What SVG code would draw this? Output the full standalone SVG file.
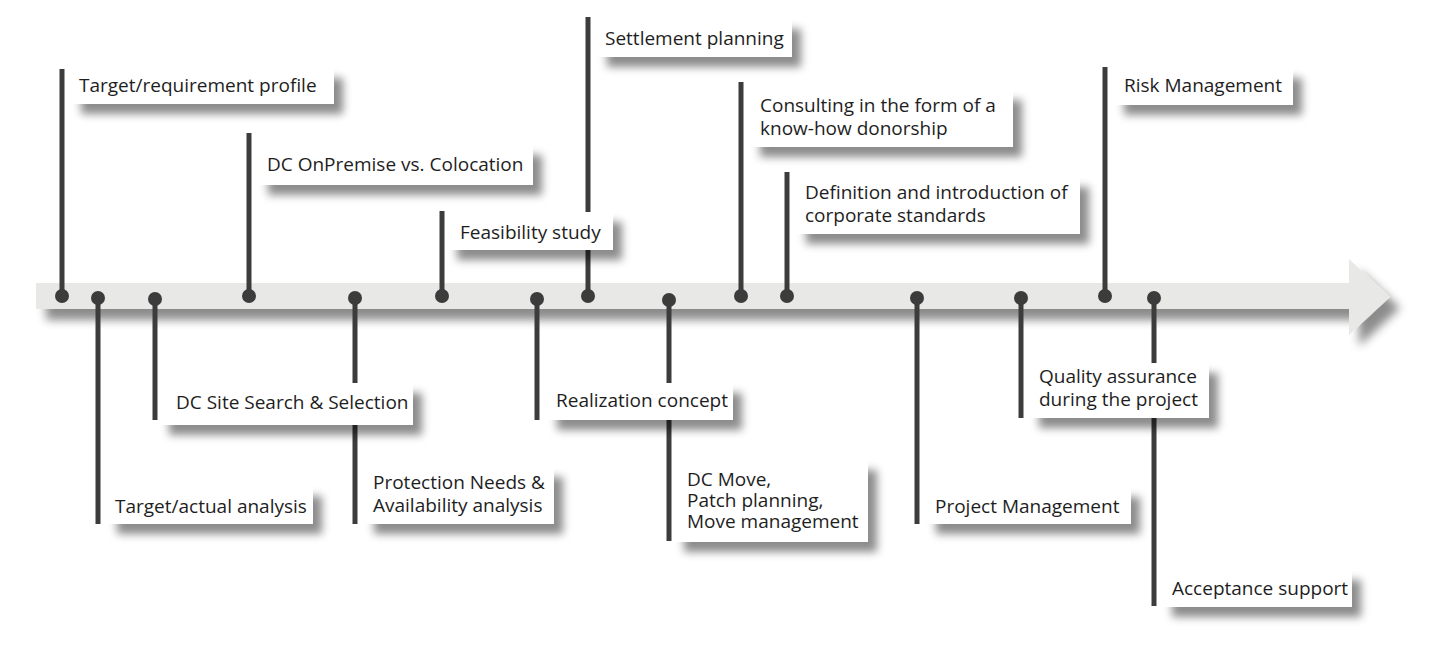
<svg xmlns="http://www.w3.org/2000/svg" width="1443" height="653" viewBox="0 0 1443 653">
<defs>
<filter id="sh" x="-20%" y="-40%" width="150%" height="200%">
<feDropShadow dx="9" dy="10" stdDeviation="4" flood-color="#000" flood-opacity="0.45"/>
</filter>
<filter id="bsh" x="-5%" y="-50%" width="110%" height="200%">
<feDropShadow dx="10" dy="11" stdDeviation="5" flood-color="#000" flood-opacity="0.45"/>
</filter>
</defs>
<style>
.ln{stroke:#3c3c3c;stroke-width:5;fill:none}
.dot{fill:#3c3c3c}
.box{fill:#fff;filter:url(#sh)}
.t{font-family:"Open Sans","Noto Sans",sans-serif;font-size:19px;fill:#1e1e1e}
</style>
<rect width="1443" height="653" fill="#fff"/>
<g id="timeline" filter="url(#bsh)">
<path d="M36,283 H1349 V259 L1390,297 L1349,335 V309 H36 Z" fill="#e8e9e7"/>
</g>
<g id="connectors">
</g>
<g id="n1">
<line class="ln" x1="62" y1="69" x2="62" y2="296"/>
<circle class="dot" cx="62" cy="296" r="7"/>
<rect class="box" x="72" y="68" width="262" height="36"/>
<text class="t" x="79" y="92">Target/requirement profile</text>
</g>
<g id="n2">
<line class="ln" x1="98" y1="299" x2="98" y2="524"/>
<circle class="dot" cx="98" cy="298" r="7"/>
<rect class="box" x="108" y="486" width="205" height="38"/>
<text class="t" x="115" y="513">Target/actual analysis</text>
</g>
<g id="n5">
<line class="ln" x1="355" y1="299" x2="355" y2="524"/>
<circle class="dot" cx="355" cy="298" r="7"/>
<rect class="box" x="365" y="467" width="189" height="57"/>
<text class="t" x="373" y="489">Protection Needs &amp;</text>
<text class="t" x="373" y="512">Availability analysis</text>
</g>
<g id="n3">
<line class="ln" x1="155" y1="299" x2="155" y2="420"/>
<circle class="dot" cx="155" cy="299" r="7"/>
<rect class="box" x="160" y="383" width="253" height="42"/>
<text class="t" x="176" y="409">DC Site Search &amp; Selection</text>
</g>
<g id="n4">
<line class="ln" x1="249" y1="133" x2="249" y2="296"/>
<circle class="dot" cx="249" cy="296" r="7"/>
<rect class="box" x="259" y="145" width="274" height="40"/>
<text class="t" x="267" y="171">DC OnPremise vs. Colocation</text>
</g>
<g id="n8">
<line class="ln" x1="588" y1="17" x2="588" y2="296"/>
<circle class="dot" cx="588" cy="296" r="7"/>
<rect class="box" x="598" y="19" width="194" height="38"/>
<text class="t" x="605" y="45">Settlement planning</text>
</g>
<g id="n6">
<line class="ln" x1="442" y1="211" x2="442" y2="296"/>
<circle class="dot" cx="442" cy="296" r="7"/>
<rect class="box" x="448" y="212" width="165" height="38"/>
<text class="t" x="460" y="239">Feasibility study</text>
</g>
<g id="n9">
<line class="ln" x1="669" y1="299" x2="669" y2="541"/>
<circle class="dot" cx="669" cy="300" r="7"/>
<rect class="box" x="675" y="460" width="193" height="82"/>
<text class="t" x="687" y="486">DC Move,</text>
<text class="t" x="687" y="507">Patch planning,</text>
<text class="t" x="687" y="528">Move management</text>
</g>
<g id="n7">
<line class="ln" x1="537" y1="299" x2="537" y2="420"/>
<circle class="dot" cx="537" cy="299" r="7"/>
<rect class="box" x="548" y="383" width="185" height="37"/>
<text class="t" x="556" y="407">Realization concept</text>
</g>
<g id="n10">
<line class="ln" x1="741" y1="82" x2="741" y2="296"/>
<circle class="dot" cx="741" cy="296" r="7"/>
<rect class="box" x="751" y="90" width="262" height="57"/>
<text class="t" x="760" y="112">Consulting in the form of a</text>
<text class="t" x="760" y="135">know-how donorship</text>
</g>
<g id="n11">
<line class="ln" x1="787" y1="172" x2="787" y2="296"/>
<circle class="dot" cx="787" cy="296" r="7"/>
<rect class="box" x="797" y="177" width="283" height="57"/>
<text class="t" x="805" y="199">Definition and introduction of</text>
<text class="t" x="805" y="222">corporate standards</text>
</g>
<g id="n12">
<line class="ln" x1="917" y1="299" x2="917" y2="524"/>
<circle class="dot" cx="917" cy="298" r="7"/>
<rect class="box" x="927" y="487" width="204" height="37"/>
<text class="t" x="935" y="513">Project Management</text>
</g>
<g id="n15">
<line class="ln" x1="1154" y1="299" x2="1154" y2="606"/>
<circle class="dot" cx="1154" cy="298" r="7"/>
<rect class="box" x="1163" y="570" width="189" height="37"/>
<text class="t" x="1172" y="595">Acceptance support</text>
</g>
<g id="n13">
<line class="ln" x1="1021" y1="299" x2="1021" y2="418"/>
<circle class="dot" cx="1021" cy="298" r="7"/>
<rect class="box" x="1030" y="363" width="179" height="55"/>
<text class="t" x="1039" y="383">Quality assurance</text>
<text class="t" x="1039" y="406">during the project</text>
</g>
<g id="n14">
<line class="ln" x1="1105" y1="67" x2="1105" y2="296"/>
<circle class="dot" cx="1105" cy="296" r="7"/>
<rect class="box" x="1115" y="68" width="178" height="37"/>
<text class="t" x="1124" y="92">Risk Management</text>
</g>
</svg>
